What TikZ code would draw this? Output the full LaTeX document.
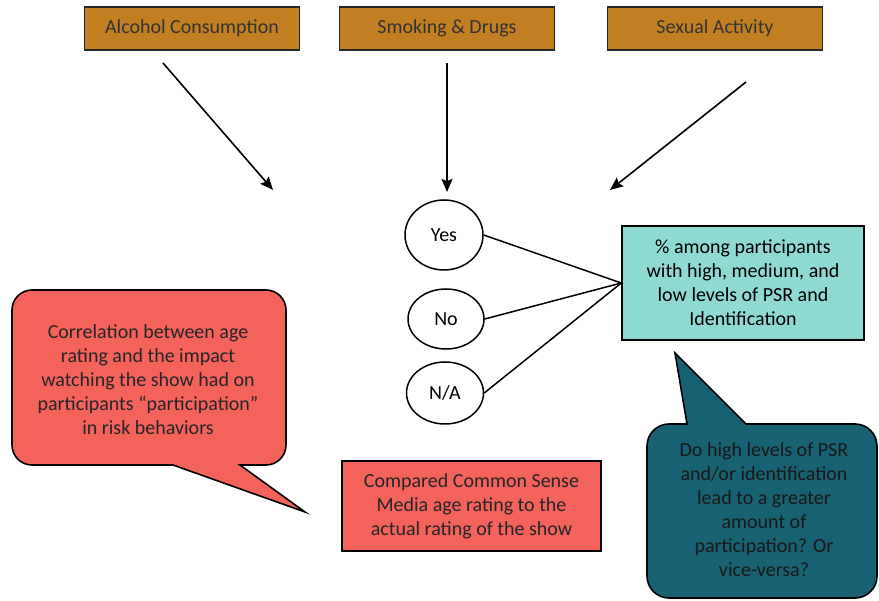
\documentclass[tikz,border=0pt]{standalone}
\usepackage{fontspec}
\setmainfont{Carlito}
\usepackage{xcolor}
\usetikzlibrary{arrows.meta,shapes.geometric}

\definecolor{topbrown}{HTML}{C17F22}
\definecolor{callred}{HTML}{F4625C}
\definecolor{lightteal}{HTML}{8FD9D3}
\definecolor{darkteal}{HTML}{186173}

\begin{document}
\begin{tikzpicture}[
  x=1pt,y=-1pt,
  font=\fontsize{20}{24}\selectfont,
  topbox/.style={draw=black!85,line width=1.2pt,fill=topbrown,minimum width=215pt,minimum height=43pt,text=black!80},
  oval/.style={draw,ellipse,line width=1.5pt,inner sep=0pt},
  infobox/.style={draw,line width=1.5pt,align=center,inner sep=0pt},
  callout/.style={draw,line width=1.6pt},
  arr/.style={-{Stealth[length=13pt,width=11pt,inset=2pt]},line width=1.6pt},
  link/.style={line width=1.5pt}
]
\useasboundingbox (0,0) rectangle (879,601);

% risk behaviours
\node[topbox] (alcohol) at (192,28.5) {Alcohol Consumption};
\node[topbox] (smoking) at (447,28.5) {Smoking \& Drugs};
\node[topbox] (sexual) at (715,28.5) {Sexual Activity};

\coordinate (alcfrom) at (163,63);
\coordinate (alcto) at (273,190);
\coordinate (smkfrom) at (447,63);
\coordinate (smkto) at (447,192);
\coordinate (sexfrom) at (746,82);
\coordinate (sexto) at (610,190);

\draw[arr] (alcfrom) -- (alcto);
\draw[arr] (smkfrom) -- (smkto);
\draw[arr] (sexfrom) -- (sexto);

% answers
\node[oval,minimum width=78pt,minimum height=70pt] (yes) at (444,235) {Yes};
\node[oval,minimum width=76pt,minimum height=60pt] (no) at (446,319) {No};
\node[oval,minimum width=77pt,minimum height=62pt] (na) at (445,393) {N/A};

\node[infobox,fill=lightteal,minimum width=242pt,minimum height=114pt] (pct) at (743,283)
  {\% among participants\\with high, medium, and\\low levels of PSR and\\Identification};

\draw[link] (yes.east) -- (pct.west);
\draw[link] (no.east) -- (pct.west);
\draw[link] (na.east) -- (pct.west);

\node[infobox,fill=callred,minimum width=259pt,minimum height=90pt,text=black!85] (rating) at (471.5,506)
  {Compared Common Sense\\Media age rating to the\\actual rating of the show};

% speech bubbles
\draw[callout,fill=callred] (12,380) [rounded corners=20pt] -- (12,290) -- (286,290) -- (286,465)
  [sharp corners] -- (240,465) -- (305,512) -- (173,465) [rounded corners=20pt] -- (12,465) -- cycle;
\node[align=center,text=black!85] (corr) at (148,380)
  {Correlation between age\\rating and the impact\\watching the show had on\\participants “participation”\\in risk behaviors};

\draw[callout,fill=darkteal] (647,510) [rounded corners=22pt] -- (647,424)
  [sharp corners] -- (687,424) -- (675,353) -- (746,424) [rounded corners=22pt] -- (877,424) -- (877,598) -- (647,598) -- cycle;
\node[align=center,text=black!90] (question) at (764,510)
  {Do high levels of PSR\\and/or identification\\lead to a greater\\amount of\\participation? Or\\vice-versa?};
\end{tikzpicture}
\end{document}
